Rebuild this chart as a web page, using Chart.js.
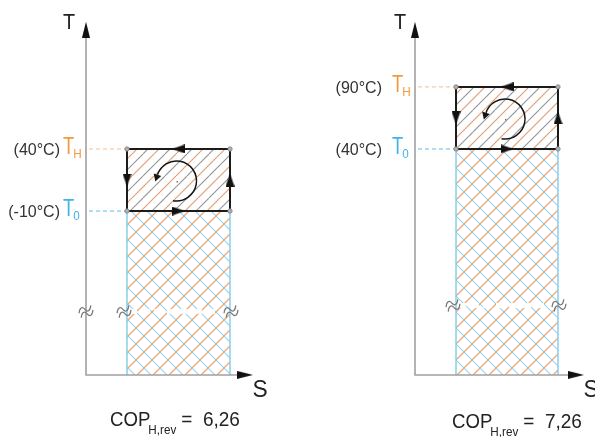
<!DOCTYPE html>
<html><head><meta charset="utf-8">
<script src="https://cdn.jsdelivr.net/npm/chart.js@4/dist/chart.umd.min.js"></script>
<style>html,body{margin:0;padding:0;background:#fff;overflow:hidden}#wrap{width:595px;height:437px;position:relative}</style>
</head><body><div id="wrap"><canvas id="c"></canvas></div>
<script>
// ---- data (T in °C, S in arbitrary entropy units) ----
const tempHigh = [40, 90];          // T_H of each cycle
const tempLow = [-10, 40];          // T_0 of each cycle
const copValues = ['6,26', '7,26']; // COP_H,rev
const entropyStart = [127, 456];    // S at left side of the cycle
const entropyEnd = [230, 558];      // S at right side of the cycle
const axisS = [86, 415];            // S where the T axis stands
const axisSEnd = [245, 576];        // S end of the S axis
const axisTBottom = -142;           // T of the S axis (broken scale)
const axisTTop = 136;               // top of T axis
const breakT = [-91, -86];          // where the T scale is broken
const axisBreakMark = [true, false];
const highLabels = tempHigh.map(t => '(' + t + '°C)');
const lowLabels = tempLow.map(t => '(' + t + '°C)');

const FONT = '"Liberation Sans", Arial, sans-serif';

function tile(w, h, draw) {
  const c = document.createElement('canvas');
  c.width = w; c.height = h;
  const g = c.getContext('2d');
  draw(g, w, h);
  return g.createPattern(c, 'repeat');
}
function diag(g, x0, h, w, up) {
  g.beginPath();
  if (up) { g.moveTo(x0, h); g.lineTo(x0 + w, 0); }
  else { g.moveTo(x0, 0); g.lineTo(x0 + w, h); }
  g.stroke();
}
const boxPattern = tile(22, 22, (g, w, h) => {
  [-22, 0, 22].forEach(x0 => { g.lineWidth = 1.2; g.strokeStyle = 'rgba(215,130,75,0.75)'; diag(g, x0, h, w, true); });
  [-11, 11].forEach(x0 => { g.lineWidth = 1.1; g.strokeStyle = 'rgba(80,80,80,0.6)'; diag(g, x0, h, w, true); });
});
const lowPattern = tile(16, 16, (g, w, h) => {
  [-16, 0, 16].forEach(x0 => {
    g.lineWidth = 1.3; g.strokeStyle = 'rgba(238,140,75,0.75)'; diag(g, x0, h, w, true);
    g.lineWidth = 1.1; g.strokeStyle = 'rgba(90,180,220,0.6)'; diag(g, x0, h, w, false);
  });
});
function arrowImg(w, h) {
  const c = document.createElement('canvas');
  c.width = w; c.height = h;
  const g = c.getContext('2d');
  g.fillStyle = '#111';
  g.beginPath(); g.moveTo(w / 2, 0); g.lineTo(w, h); g.lineTo(0, h); g.closePath(); g.fill();
  return c;
}
const axisArrow = arrowImg(8, 16);
const boxArrow = arrowImg(9, 13);

const datasets = [];
for (let i = 0; i < tempHigh.length; i++) {
  const s1 = entropyStart[i], s2 = entropyEnd[i], th = tempHigh[i], t0 = tempLow[i];
  const base = { pointRadius: 0, fill: false, borderWidth: 0, tension: 0 };
  datasets.push({ ...base, data: [{x: s1, y: t0}, {x: s2, y: t0}], fill: {value: axisTBottom}, backgroundColor: lowPattern, order: 20 });
  datasets.push({ ...base, data: [{x: s1, y: th}, {x: s2, y: th}], fill: {value: t0}, backgroundColor: boxPattern, order: 19 });
  datasets.push({ ...base, data: [{x: s1 + 1, y: breakT[i]}, {x: s2 - 1, y: breakT[i]}], borderColor: '#fff', borderWidth: 5, borderDash: [9, 4], order: 15 });
  datasets.push({ ...base, data: [{x: s1, y: t0}, {x: s1, y: axisTBottom}], borderColor: '#86d0ea', borderWidth: 1.5, order: 12 });
  datasets.push({ ...base, data: [{x: s2, y: t0}, {x: s2, y: axisTBottom}], borderColor: '#86d0ea', borderWidth: 1.5, order: 12 });
  datasets.push({ ...base, data: [{x: axisS[i], y: axisTTop}, {x: axisS[i], y: axisTBottom}, {x: axisSEnd[i], y: axisTBottom}], borderColor: '#a0a0a0', borderWidth: 1.6, order: 10 });
  datasets.push({ ...base, data: [{x: axisS[i] + 3, y: th}, {x: s1, y: th}], borderColor: '#f3bf98', borderWidth: 1, borderDash: [4, 3], order: 9 });
  datasets.push({ ...base, data: [{x: axisS[i] + 3, y: t0}, {x: s1, y: t0}], borderColor: '#58bde3', borderWidth: 1, borderDash: [4, 3], order: 9 });
  datasets.push({ ...base, data: [{x: s1, y: th}, {x: s2, y: th}, {x: s2, y: t0}, {x: s1, y: t0}, {x: s1, y: th}],
    borderColor: '#1b1b1b', borderWidth: 2, pointRadius: [2.2, 2.2, 2.2, 2.2, 0], pointBackgroundColor: '#b0b0b0', pointBorderColor: '#808080', pointBorderWidth: 0.8, order: 5 });
  datasets.push({ ...base, showLine: false,
    data: [{x: (s1 + s2) / 2, y: th}, {x: s1, y: (th + t0) / 2}, {x: (s1 + s2) / 2, y: t0}, {x: s2, y: (th + t0) / 2}],
    pointStyle: boxArrow, pointRadius: 6, pointRotation: [-90, 180, 90, 0], order: 2 });
  datasets.push({ ...base, showLine: false,
    data: [{x: axisS[i], y: axisTTop}, {x: axisSEnd[i], y: axisTBottom}],
    pointStyle: axisArrow, pointRadius: 8, pointRotation: [0, 90], order: 2 });
}

const decor = {
  id: 'decor',
  afterDatasetsDraw(chart) {
    const ctx = chart.ctx, X = chart.scales.x, Y = chart.scales.y;
    const px = v => X.getPixelForValue(v), py = v => Y.getPixelForValue(v);
    function sText(txt, x, y, size, color, sx, align) {
      ctx.save();
      ctx.font = size + 'px ' + FONT;
      ctx.fillStyle = color;
      ctx.textBaseline = 'alphabetic';
      const w = ctx.measureText(txt).width * sx;
      let x0 = x;
      if (align === 'right') x0 = x - w;
      if (align === 'center') x0 = x - w / 2;
      ctx.translate(x0, y); ctx.scale(sx, 1);
      ctx.fillText(txt, 0, 0);
      ctx.restore();
      return w;
    }
    for (let i = 0; i < tempHigh.length; i++) {
      const ax = px(axisS[i]);
      const yH = py(tempHigh[i]), y0 = py(tempLow[i]);
      const gap = i === 0 ? 26 : 33;
      sText(highLabels[i], ax - gap, yH + 6, 16, '#333', 1, 'right');
      sText(lowLabels[i], ax - gap, y0 + 6, 16, '#333', 1, 'right');
      const tx = ax - 23;
      let w = sText('T', tx, yH + 5, 23, '#f29a40', 0.8, 'left');
      sText('H', tx + w - 1, yH + 9, 13, '#f29a40', 0.9, 'left');
      w = sText('T', tx, y0 + 5, 23, '#3fb5e5', 0.8, 'left');
      sText('0', tx + w - 1, y0 + 9, 13, '#3fb5e5', 0.9, 'left');
      // axis titles
      sText('T', ax - 17 + (i ? 2 : 0), 29, 22, '#222', 0.9, 'center');
      sText('S', px(axisSEnd[i]) + 15, py(axisTBottom) + 22, 24, '#222', 0.95, 'center');
      // COP
      const cx0 = i === 0 ? 110 : 452;
      const by = i === 0 ? 426 : 428;
      let cw = sText('COP', cx0, by, 20, '#222', 0.93, 'left');
      let sw = sText('H,rev', cx0 + cw - 2, by + 8, 13, '#222', 0.9, 'left');
      sText('=  ' + copValues[i], cx0 + cw + sw + 3, by, 20, '#222', 0.95, 'left');
      // circular arrow
      const ccx = px((entropyStart[i] + entropyEnd[i]) / 2) - 2, ccy = (yH + y0) / 2 + 1, r = 20;
      ctx.save();
      ctx.strokeStyle = '#151515'; ctx.lineWidth = 1.5;
      const a0 = 100 * Math.PI / 180, a1 = 198 * Math.PI / 180;
      ctx.beginPath(); ctx.arc(ccx, ccy, r, a0, a1, true); ctx.stroke();
      const ex = ccx + r * Math.cos(a1), ey = ccy + r * Math.sin(a1);
      const dx = Math.sin(a1), dy = -Math.cos(a1);
      ctx.fillStyle = '#151515';
      ctx.beginPath();
      ctx.moveTo(ex + dx * 7, ey + dy * 7);
      ctx.lineTo(ex - dy * 4, ey + dx * 4);
      ctx.lineTo(ex + dy * 4, ey - dx * 4);
      ctx.closePath(); ctx.fill();
      ctx.fillStyle = '#777';
      ctx.fillRect(ccx, ccy, 1.5, 1.5);
      ctx.restore();
      // break marks
      const bys = py(breakT[i]);
      const xs = [px(entropyStart[i]) - 3, px(entropyEnd[i]) + 1];
      if (axisBreakMark[i]) xs.unshift(ax);
      xs.forEach(bx => {
        ctx.save();
        ctx.translate(bx, bys);
        ctx.rotate(-0.45);
        ctx.strokeStyle = '#777'; ctx.lineWidth = 1.2;
        for (const off of [-2.5, 2.5]) {
          ctx.beginPath();
          ctx.moveTo(-7, off + 1);
          ctx.bezierCurveTo(-4, off - 4, -1, off - 4, 0, off);
          ctx.bezierCurveTo(1, off + 4, 4, off + 4, 7, off - 1);
          ctx.stroke();
        }
        ctx.restore();
      });
    }
  }
};

new Chart(document.getElementById('c'), {
  type: 'line',
  data: { datasets },
  options: {
    responsive: true, maintainAspectRatio: false, animation: false,
    layout: { padding: 0, autoPadding: false },
    plugins: { legend: { display: false }, tooltip: { enabled: false } },
    scales: {
      x: { type: 'linear', min: 0, max: 595, display: false },
      y: { type: 'linear', min: -192, max: 160, display: false }
    },
    events: []
  },
  plugins: [decor]
});
</script></body></html>
